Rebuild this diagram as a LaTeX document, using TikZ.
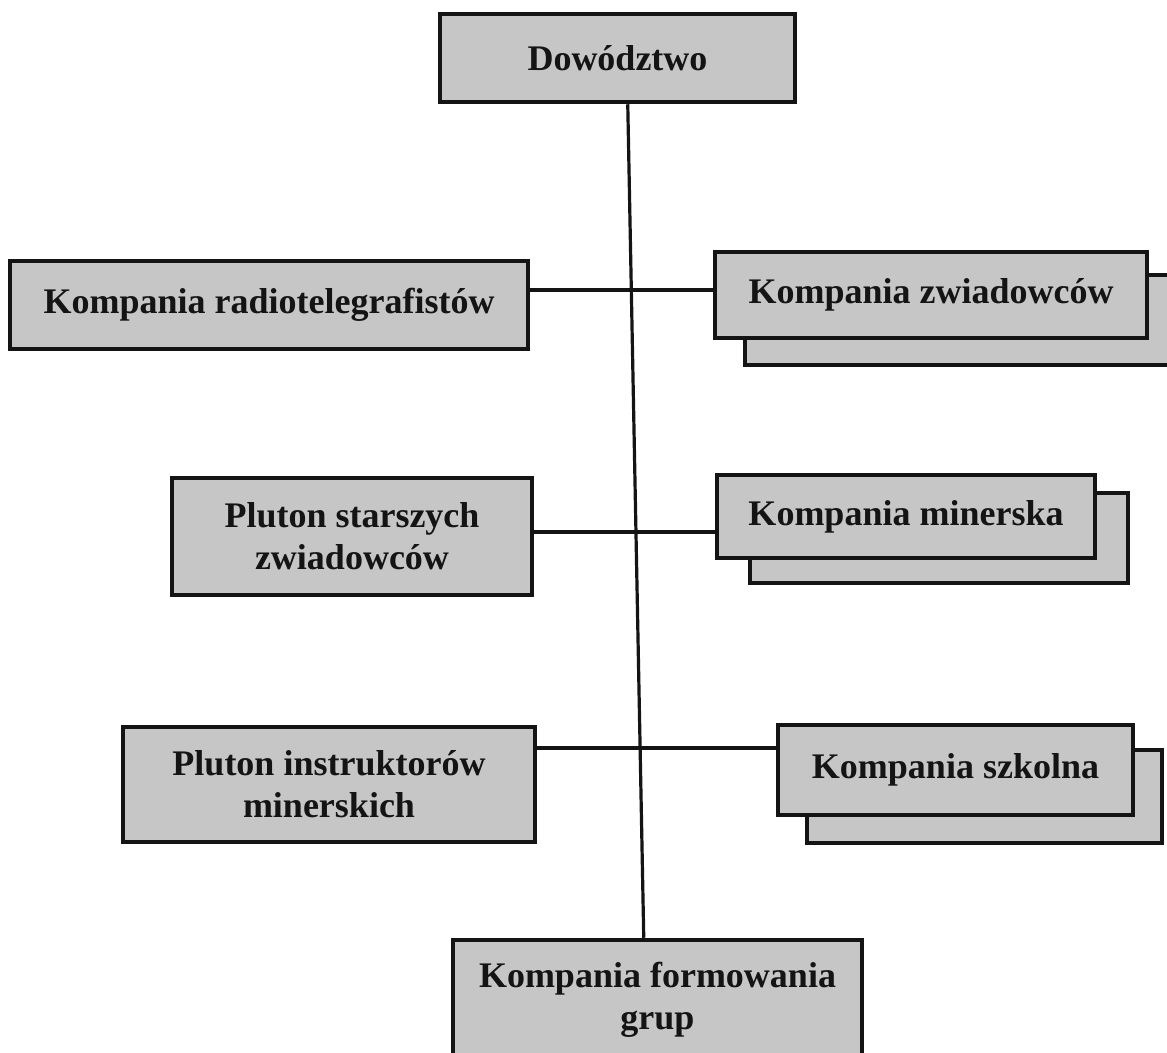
\documentclass[tikz,border=0pt]{standalone}
\usepackage{fontspec}
\setmainfont{Liberation Serif}
\usetikzlibrary{calc}
\definecolor{boxgray}{RGB}{198,198,198}
\definecolor{inkblack}{RGB}{20,20,20}
\begin{document}
\begin{tikzpicture}[x=1pt,y=-1pt,
  unit/.style={draw=inkblack,line width=4.5pt,fill=boxgray,inner sep=0pt,
    align=center,text=inkblack,
    font=\fontsize{36}{42}\selectfont\bfseries},
  backbox/.style={draw=inkblack,line width=4.5pt,fill=boxgray},
  link/.style={draw=inkblack,line width=3.2pt}]
\clip (0,0) rectangle (1167,1052);
\fill[white] (0,0) rectangle (1167,1052);

% offset boxes behind the right-hand units
\draw[backbox] (745,275) rectangle (1200,365);
\draw[backbox] (750,493) rectangle (1128,583);
\draw[backbox] (807,750) rectangle (1162,843);

% units
\node[unit,minimum width=355,minimum height=88] (dow) at (617.5,58) {Dowództwo};
\node[unit,minimum width=518,minimum height=88] (radio) at (269,305) {Kompania radiotelegrafistów};
\node[unit,minimum width=432,minimum height=86] (zw) at (931,295) {Kompania zwiadowców};
\node[unit,minimum width=360,minimum height=117] (star) at (352,536.5) {Pluton starszych\\zwiadowców};
\node[unit,minimum width=378,minimum height=83] (min) at (906,516.5) {Kompania minerska};
\node[unit,minimum width=412,minimum height=115] (instr) at (329,784.5) {Pluton instruktorów\\minerskich};
\node[unit,minimum width=355,minimum height=90] (szk) at (955.5,770) {Kompania szkolna};
\node[unit,minimum width=409,minimum height=120] (form) at (657.5,1000) {Kompania formowania\\grup};

% connectors
\draw[link] ($(dow.south west)+(190,0)$) -- ($(form.north west)+(193,0)$);
\draw[link] (radio.east |- 0,290) -- (zw.west |- 0,290);
\draw[link] (star.east |- 0,532) -- (min.west |- 0,532);
\draw[link] (instr.east |- 0,748) -- (szk.west |- 0,748);
\end{tikzpicture}
\end{document}
